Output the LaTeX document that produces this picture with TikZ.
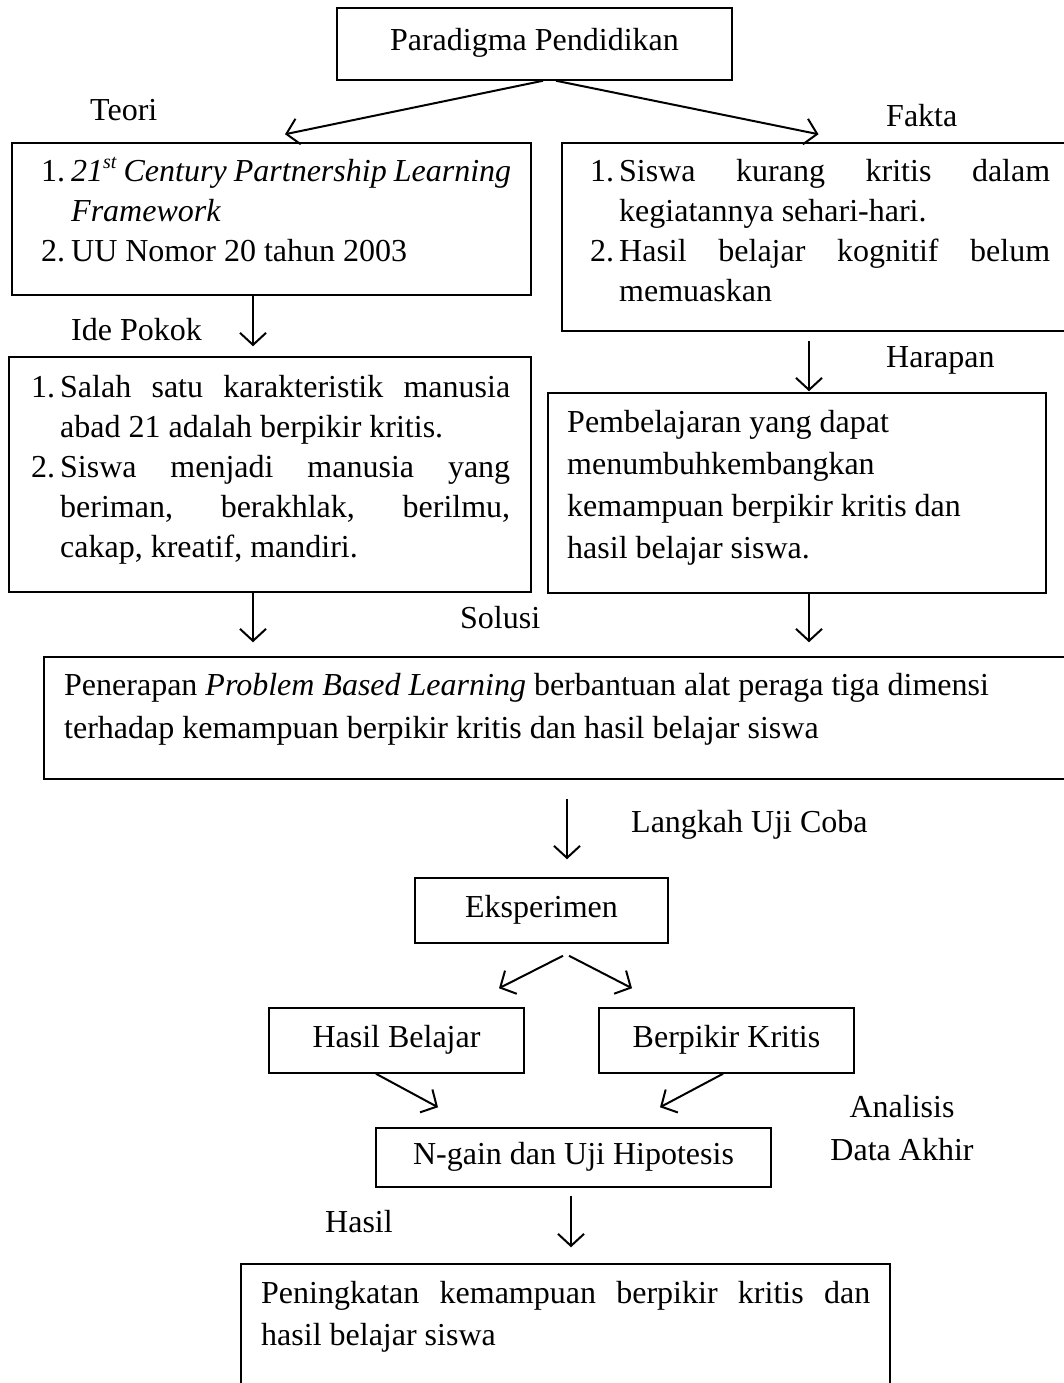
\documentclass[tikz,border=0pt]{standalone}
\usepackage{fontspec}
\setmainfont{Liberation Serif}
\usetikzlibrary{arrows.meta,calc}

% numbered item with hanging indent
\newcommand{\itm}[3]{\noindent\hangindent=#1\hangafter=1\makebox[#1][l]{#2}#3\par}
\newcommand{\sups}[1]{\raisebox{13pt}{\fontsize{20}{20}\selectfont #1}}

\begin{document}
\begin{tikzpicture}[x=1pt,y=1pt,yscale=-1,xscale=1,
  box/.style={draw,line width=1.5,inner sep=0},
  kotak/.style={box,text height=22pt,text depth=9pt,font=\fontsize{32}{40}\selectfont},
  lbl/.style={anchor=base west,inner sep=0,font=\fontsize{32}{40}\selectfont},
  teks/.style={anchor=base west,inner sep=0,align=justify,font=\fontsize{32}{40}\selectfont},
  teksL/.style={anchor=base west,inner sep=0,align=flush left,font=\fontsize{32}{42}\selectfont},
  arr/.style={line width=2,-{Straight Barb[length=12pt,width=26pt]}}]
\useasboundingbox (0,0) rectangle (1064,1383);

%Shape: Rectangle
\node[kotak,minimum width=395pt,minimum height=72pt] (para) at (534.5,44) {Paradigma Pendidikan};
%Shape: Rectangle
\node[box,minimum width=519pt,minimum height=152pt] (teori) at (271.5,219) {};
\node[teks,text width=470pt] (teoriTxt) at (41,182) {%
\itm{30pt}{1.}{\textit{21\sups{st} Century Partnership Learning Framework}}
\itm{30pt}{2.}{UU Nomor 20 tahun 2003}};
%Shape: Rectangle
\node[box,minimum width=513pt,minimum height=188pt] (fakta) at (818.5,237) {};
\node[teks,text width=460pt] (faktaTxt) at (590,182) {%
\itm{29pt}{1.}{Siswa kurang kritis dalam\linebreak kegiatannya sehari-hari.}
\itm{29pt}{2.}{Hasil belajar kognitif belum\linebreak memuaskan}};
%Shape: Rectangle
\node[box,minimum width=522pt,minimum height=235pt] (ide) at (270,474.5) {};
\node[teks,text width=479pt] (ideTxt) at (31,397) {%
\itm{29pt}{1.}{Salah satu karakteristik manusia\linebreak abad 21 adalah berpikir kritis.}
\itm{29pt}{2.}{Siswa menjadi manusia yang\linebreak beriman, berakhlak, berilmu,\linebreak cakap, kreatif, mandiri.}};
%Shape: Rectangle
\node[box,minimum width=498pt,minimum height=200pt] (harapan) at (797,493) {};
\node[teksL,text width=470pt] (harapanTxt) at (567,432) {Pembelajaran yang dapat\\ menumbuhkembangkan\\ kemampuan berpikir kritis dan\\ hasil belajar siswa.};
%Shape: Rectangle
\node[box,minimum width=1031pt,minimum height=122pt] (solusi) at (559.5,718) {};
\node[teksL,text width=980pt,font=\fontsize{32}{43}\selectfont] (solusiTxt) at (64,695) {Penerapan \textit{Problem Based Learning} berbantuan alat peraga tiga dimensi\\ terhadap kemampuan berpikir kritis dan hasil belajar siswa};
%Shape: Rectangle
\node[kotak,minimum width=253pt,minimum height=65pt] (eks) at (541.5,910.5) {Eksperimen};
\node[kotak,minimum width=255pt,minimum height=65pt] (hasilb) at (396.5,1040.5) {Hasil Belajar};
\node[kotak,minimum width=255pt,minimum height=65pt] (kritis) at (726.5,1040.5) {Berpikir Kritis};
\node[kotak,minimum width=395pt,minimum height=59pt] (ngain) at (573.5,1157.5) {N-gain dan Uji Hipotesis};
%Shape: Rectangle
\node[box,minimum width=649pt,minimum height=136pt] (hasil) at (565.5,1332) {};
\node[teks,text width=609pt,font=\fontsize{32}{42}\selectfont] (hasilTxt) at (261,1303) {%
Peningkatan kemampuan berpikir kritis dan\linebreak hasil belajar siswa};

% Text Node
\node[lbl] (lTeori) at (90,121) {Teori};
\node[lbl] (lFakta) at (886,127) {Fakta};
\node[lbl] (lIde) at (71,340) {Ide Pokok};
\node[lbl] (lHarapan) at (886,367) {Harapan};
\node[lbl] (lSolusi) at (460,628) {Solusi};
\node[lbl] (lLangkah) at (631,832) {Langkah Uji Coba};
\node[lbl,anchor=base] (lAnalisis) at (902,1117) {Analisis};
\node[lbl,anchor=base] (lData) at (902,1160) {Data Akhir};
\node[lbl] (lHasil) at (325,1232) {Hasil};

\coordinate (colA) at (253,0);
\coordinate (colB) at (809,0);
\coordinate (colC) at (567,0);
\coordinate (colD) at (571,0);

%Straight Lines
\draw[arr] ($(para.south)+(8.5,0)$) -- ($(teori.north)+(13.5,-8)$);
\draw[arr] ($(para.south)+(21.5,0)$) -- ($(fakta.north)+(0,-8)$);
\draw[arr,shorten >=10pt] (teori.south -| colA) -- (ide.north -| colA);
\draw[arr,shorten <=9pt,shorten >=1pt] (fakta.south -| colB) -- (harapan.north -| colB);
\draw[arr,shorten >=14pt] (ide.south -| colA) -- (solusi.north -| colA);
\draw[arr,shorten >=14pt] (harapan.south -| colB) -- (solusi.north -| colB);
\draw[arr,shorten <=19pt,shorten >=18pt] (solusi.south -| colC) -- (eks.north -| colC);
\draw[arr] ($(eks.south)+(21.5,12)$) -- ($(hasilb.north)+(102.5,-19)$);
\draw[arr] ($(eks.south)+(27.5,12)$) -- ($(kritis.north)+(-94.5,-19)$);
\draw[arr] ($(hasilb.south)+(-20.5,0)$) -- ($(ngain.north)+(-135.5,-20)$);
\draw[arr] ($(kritis.south)+(-3.5,0)$) -- ($(ngain.north)+(86.5,-20)$);
\draw[arr,shorten <=8pt,shorten >=16pt] (ngain.south -| colD) -- (hasil.north -| colD);

\end{tikzpicture}
\end{document}
